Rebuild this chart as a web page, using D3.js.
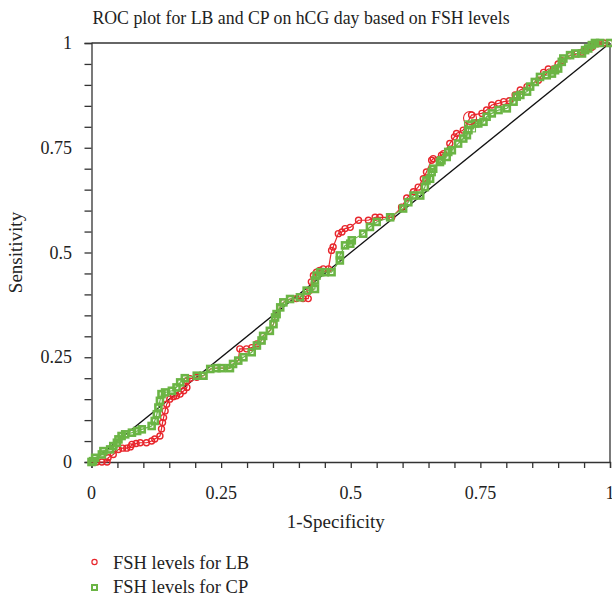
<!DOCTYPE html>
<html>
<head>
<meta charset="utf-8">
<script src="https://cdn.jsdelivr.net/npm/d3@7"></script>
<style>
  html, body { margin: 0; padding: 0; background: #fff; }
  svg text { font-family: "Liberation Serif", "DejaVu Serif", serif; fill: #222; }
</style>
</head>
<body>
<div id="chart"></div>
<script>
// FSH levels for LB (red circles): 1-specificity / sensitivity
const lbFpr = [0, 0.01, 0.02, 0.03, 0.032, 0.042, 0.052, 0.06, 0.068, 0.075, 0.078, 0.086, 0.094, 0.106, 0.116, 0.122, 0.132, 0.135, 0.137, 0.139, 0.142, 0.145, 0.151, 0.158, 0.164, 0.171, 0.178, 0.184, 0.184, 0.19, 0.203, 0.216, 0.229, 0.241, 0.251, 0.267, 0.273, 0.283, 0.286, 0.299, 0.309, 0.319, 0.328, 0.331, 0.344, 0.351, 0.354, 0.357, 0.364, 0.37, 0.383, 0.395, 0.408, 0.418, 0.421, 0.424, 0.428, 0.434, 0.44, 0.447, 0.457, 0.463, 0.466, 0.476, 0.483, 0.489, 0.499, 0.515, 0.534, 0.547, 0.556, 0.576, 0.579, 0.598, 0.608, 0.621, 0.63, 0.64, 0.646, 0.656, 0.659, 0.675, 0.679, 0.691, 0.7, 0.704, 0.717, 0.733, 0.753, 0.762, 0.772, 0.785, 0.795, 0.806, 0.817, 0.827, 0.84, 0.855, 0.862, 0.872, 0.881, 0.891, 0.9, 0.907, 0.923, 0.936, 0.946, 0.955, 0.965, 0.975, 0.988, 1];
const lbTpr = [0, 0, 0, 0, 0.01, 0.018, 0.03, 0.033, 0.033, 0.036, 0.042, 0.044, 0.046, 0.046, 0.05, 0.055, 0.062, 0.079, 0.094, 0.106, 0.122, 0.138, 0.15, 0.156, 0.158, 0.162, 0.17, 0.178, 0.194, 0.199, 0.202, 0.206, 0.222, 0.224, 0.224, 0.224, 0.234, 0.242, 0.27, 0.27, 0.273, 0.282, 0.29, 0.301, 0.313, 0.329, 0.345, 0.353, 0.369, 0.381, 0.389, 0.39, 0.39, 0.39, 0.41, 0.43, 0.445, 0.453, 0.457, 0.461, 0.461, 0.505, 0.513, 0.545, 0.549, 0.557, 0.56, 0.577, 0.577, 0.584, 0.584, 0.584, 0.584, 0.608, 0.63, 0.645, 0.656, 0.676, 0.692, 0.72, 0.724, 0.732, 0.736, 0.76, 0.776, 0.784, 0.792, 0.828, 0.832, 0.84, 0.852, 0.856, 0.86, 0.862, 0.876, 0.888, 0.896, 0.907, 0.911, 0.93, 0.938, 0.938, 0.95, 0.958, 0.97, 0.974, 0.978, 0.986, 0.99, 0.998, 1, 1];

// FSH levels for CP (green squares)
const cpFpr = [0, 0.003, 0.007, 0.02, 0.023, 0.036, 0.042, 0.049, 0.052, 0.058, 0.065, 0.078, 0.088, 0.097, 0.116, 0.122, 0.126, 0.129, 0.132, 0.135, 0.142, 0.155, 0.164, 0.171, 0.18, 0.203, 0.216, 0.229, 0.241, 0.251, 0.267, 0.273, 0.283, 0.293, 0.309, 0.319, 0.328, 0.331, 0.344, 0.351, 0.354, 0.357, 0.364, 0.37, 0.383, 0.402, 0.415, 0.431, 0.431, 0.434, 0.441, 0.45, 0.463, 0.479, 0.479, 0.489, 0.499, 0.502, 0.524, 0.537, 0.55, 0.576, 0.601, 0.611, 0.621, 0.634, 0.643, 0.646, 0.653, 0.656, 0.659, 0.672, 0.675, 0.685, 0.688, 0.695, 0.707, 0.717, 0.724, 0.727, 0.73, 0.74, 0.746, 0.756, 0.762, 0.772, 0.785, 0.801, 0.814, 0.82, 0.827, 0.84, 0.846, 0.855, 0.865, 0.878, 0.888, 0.894, 0.9, 0.907, 0.91, 0.923, 0.933, 0.946, 0.952, 0.958, 0.965, 0.971, 0.981, 1];
const cpTpr = [0, 0.002, 0.01, 0.018, 0.026, 0.03, 0.038, 0.046, 0.054, 0.062, 0.066, 0.07, 0.074, 0.078, 0.086, 0.098, 0.114, 0.13, 0.146, 0.162, 0.166, 0.17, 0.178, 0.19, 0.2, 0.206, 0.206, 0.222, 0.224, 0.224, 0.224, 0.234, 0.242, 0.25, 0.262, 0.278, 0.29, 0.301, 0.313, 0.329, 0.345, 0.353, 0.369, 0.381, 0.389, 0.393, 0.409, 0.413, 0.433, 0.445, 0.453, 0.453, 0.453, 0.481, 0.493, 0.517, 0.521, 0.529, 0.545, 0.561, 0.573, 0.584, 0.605, 0.62, 0.636, 0.636, 0.656, 0.672, 0.676, 0.692, 0.7, 0.716, 0.72, 0.728, 0.74, 0.744, 0.76, 0.772, 0.78, 0.792, 0.804, 0.808, 0.808, 0.812, 0.824, 0.832, 0.84, 0.844, 0.86, 0.872, 0.876, 0.884, 0.896, 0.907, 0.919, 0.923, 0.927, 0.935, 0.939, 0.955, 0.963, 0.971, 0.975, 0.975, 0.983, 0.987, 0.995, 1, 1, 1];

// optimal cut-off points
const lbCutoff = [0.73, 0.821];
const cpCutoff = [0.73, 0.801];

const tickValues = [0, 0.25, 0.5, 0.75, 1];
const tickLabels = ['0', '0.25', '0.5', '0.75', '1'];
const minorTicks = d3.range(0, 1.0001, 0.05);

const width = 612, height = 598;
const margin = { top: 43, right: 2, bottom: 136, left: 91.5 };

const svg = d3.select('#chart').append('svg')
    .attr('width', width)
    .attr('height', height);

const x = d3.scaleLinear().domain([0, 1]).range([margin.left, width - margin.right]);
const y = d3.scaleLinear().domain([0, 1]).range([height - margin.bottom, margin.top]);

const RED = '#e8262c';
const GREEN = '#6bb545';
const AXIS = '#333';

// title
svg.append('text')
    .attr('x', 301)
    .attr('y', 24)
    .attr('text-anchor', 'middle')
    .style('font-size', '17.8px')
    .text('ROC plot for LB and CP on hCG day based on FSH levels');

// frame (top and right)
svg.append('line')
    .attr('x1', x(0)).attr('x2', x(1)).attr('y1', y(1)).attr('y2', y(1))
    .attr('stroke', AXIS).attr('stroke-width', 1.3);
svg.append('line')
    .attr('x1', x(1)).attr('x2', x(1)).attr('y1', y(1)).attr('y2', y(0))
    .attr('stroke', AXIS).attr('stroke-width', 1.3);

// axes
const xAxis = d3.axisBottom(x).tickValues(minorTicks).tickSize(6).tickFormat('');
const yAxis = d3.axisLeft(y).tickValues(minorTicks).tickSize(7).tickFormat('');

const gx = svg.append('g').attr('transform', `translate(0,${y(0)})`).call(xAxis);
const gy = svg.append('g').attr('transform', `translate(${x(0)},0)`).call(yAxis);
[gx, gy].forEach(g => {
    g.select('.domain').attr('stroke', AXIS).attr('stroke-width', 1.3);
    g.selectAll('.tick line').attr('stroke', AXIS).attr('stroke-width', 1.3);
});

svg.selectAll('.xlab')
    .data(tickValues)
    .join('text')
    .attr('class', 'xlab')
    .attr('x', d => x(d))
    .attr('y', 499)
    .attr('text-anchor', 'middle')
    .style('font-size', '18px')
    .text((d, i) => tickLabels[i]);

svg.selectAll('.ylab')
    .data(tickValues)
    .join('text')
    .attr('class', 'ylab')
    .attr('x', 72)
    .attr('y', d => y(d) + 6)
    .attr('text-anchor', 'end')
    .style('font-size', '18px')
    .text((d, i) => tickLabels[i]);

svg.append('text')
    .attr('x', (x(0) + x(1)) / 2 - 15)
    .attr('y', 528)
    .attr('text-anchor', 'middle')
    .style('font-size', '19px')
    .text('1-Specificity');

svg.append('text')
    .attr('transform', `translate(22,${(y(0) + y(1)) / 2}) rotate(-90)`)
    .attr('text-anchor', 'middle')
    .style('font-size', '19px')
    .text('Sensitivity');

// reference diagonal
svg.append('line')
    .attr('x1', x(0)).attr('y1', y(0)).attr('x2', x(1)).attr('y2', y(1))
    .attr('stroke', '#111').attr('stroke-width', 1.3);

const lb = lbFpr.map((v, i) => [v, lbTpr[i]]);
const cp = cpFpr.map((v, i) => [v, cpTpr[i]]);
const line = d3.line().x(d => x(d[0])).y(d => y(d[1]));

// LB series
svg.append('path')
    .datum(lb)
    .attr('d', line)
    .attr('fill', 'none')
    .attr('stroke', RED)
    .attr('stroke-width', 1.2);
svg.selectAll('.lbpt')
    .data(lb)
    .join('circle')
    .attr('class', 'lbpt')
    .attr('cx', d => x(d[0]))
    .attr('cy', d => y(d[1]))
    .attr('r', 3)
    .attr('fill', 'none')
    .attr('stroke', RED)
    .attr('stroke-width', 1.4);

// CP series
svg.append('path')
    .datum(cp)
    .attr('d', line)
    .attr('fill', 'none')
    .attr('stroke', GREEN)
    .attr('stroke-width', 1.2);
svg.selectAll('.cppt')
    .data(cp)
    .join('rect')
    .attr('class', 'cppt')
    .attr('x', d => x(d[0]) - 3)
    .attr('y', d => y(d[1]) - 3)
    .attr('width', 6)
    .attr('height', 6)
    .attr('fill', 'none')
    .attr('stroke', GREEN)
    .attr('stroke-width', 2.6);

// cut-off markers
svg.append('circle')
    .attr('cx', x(lbCutoff[0])).attr('cy', y(lbCutoff[1]))
    .attr('r', 6.5)
    .attr('fill', 'none').attr('stroke', RED).attr('stroke-width', 1.1);
svg.append('rect')
    .attr('x', x(cpCutoff[0]) - 5.5).attr('y', y(cpCutoff[1]) - 5.5)
    .attr('width', 11).attr('height', 11)
    .attr('fill', 'none').attr('stroke', GREEN).attr('stroke-width', 1.1);

// legend
const legend = svg.append('g');
legend.append('circle')
    .attr('cx', 94.5).attr('cy', 562).attr('r', 2.6)
    .attr('fill', 'none').attr('stroke', RED).attr('stroke-width', 1.2);
legend.append('text')
    .attr('x', 113).attr('y', 568.5)
    .style('font-size', '18.5px')
    .text('FSH levels for LB');
legend.append('rect')
    .attr('x', 92).attr('y', 585).attr('width', 5).attr('height', 5)
    .attr('fill', 'none').attr('stroke', GREEN).attr('stroke-width', 2);
legend.append('text')
    .attr('x', 113).attr('y', 592.5)
    .style('font-size', '18.5px')
    .text('FSH levels for CP');
</script>
</body>
</html>
